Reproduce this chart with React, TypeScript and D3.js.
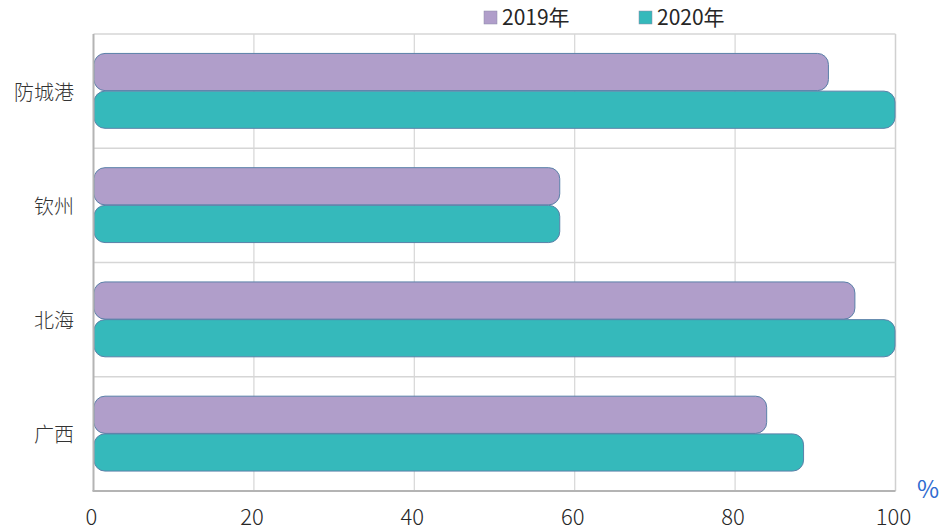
import React from "react";
import * as d3 from "d3";

const categories = ["防城港", "钦州", "北海", "广西"];
const series = ["2019年", "2020年"];
const values2019 = [91.7, 58.2, 95.0, 84.0];
const values2020 = [100, 58.2, 100, 88.6];
const xTicks = [0, 20, 40, 60, 80, 100];
const colors = ["#b09eca", "#35b9bb"];

const W = 941;
const H = 531;
const M = { left: 93.5, right: 895.5, top: 34, bottom: 491 };
const FONT = "'Noto Sans CJK SC', 'Noto Sans', sans-serif";

export default function App() {
  const x = d3.scaleLinear().domain([0, 100]).range([M.left, M.right]);
  const y = d3.scaleBand<string>().domain(categories).range([M.top, M.bottom]).paddingInner(0).paddingOuter(0);
  const barH = 37.7;
  const data = [values2019, values2020];

  return (
    <div style={{ position: "absolute", left: 0, top: 0 }}>
      <svg width={W} height={H} style={{ display: "block", background: "#fff" }}>
        {xTicks.slice(1, -1).map((t) => (
          <line key={t} x1={x(t)} x2={x(t)} y1={M.top} y2={M.bottom} stroke="#d6d6d6" strokeWidth={1.2} />
        ))}
        <line x1={x(100)} x2={x(100)} y1={M.top} y2={M.bottom} stroke="#d0d0d0" strokeWidth={1.5} />
        {categories.map((c) => (
          <line key={c} x1={M.left} x2={M.right} y1={y(c)!} y2={y(c)!} stroke="#d6d6d6" strokeWidth={1.5} />
        ))}
        {categories.map((c, i) => {
          const band = y.bandwidth();
          const top = y(c)! + (band - barH * 2) / 2;
          return data.map((vals, s) => (
            <rect
              key={c + s}
              x={x(0) + 0.5}
              y={top + s * barH}
              width={x(vals[i]) - x(0) - 1}
              height={barH - 0.5}
              rx={11}
              ry={11}
              fill={colors[s]}
              stroke="#5a80a8"
              strokeWidth={1}
            />
          ));
        })}
        <line x1={M.left} x2={M.left} y1={M.top} y2={M.bottom} stroke="#b4b4b4" strokeWidth={2} />
        <line x1={M.left - 1} x2={M.right} y1={M.bottom} y2={M.bottom} stroke="#b4b4b4" strokeWidth={2} />
        {xTicks.map((t) => (
          <text key={t} x={x(t) - 2} y={525} textAnchor="middle" fontFamily={FONT} fontWeight={300} fontSize={22} fill="#262626">
            {t}
          </text>
        ))}
        <text x={928} y={498} textAnchor="middle" fontFamily={FONT} fontWeight={400} fontSize={24} fill="#2f6bd0">
          %
        </text>
        {categories.map((c) => (
          <text
            key={c}
            x={74}
            y={y(c)! + y.bandwidth() / 2}
            textAnchor="end"
            dominantBaseline="central"
            fontFamily={FONT}
            fontWeight={300}
            fontSize={20}
            fill="#333"
          >
            {c}
          </text>
        ))}
        {series.map((s, i) => {
          const lx = [484, 639][i];
          return (
            <g key={s}>
              <rect x={lx} y={11} width={13} height={13} fill={colors[i]} stroke="#8a8aa8" strokeWidth={0.5} />
              <text x={lx + 18} y={25} fontFamily={FONT} fontWeight={400} fontSize={21} fill="#262626">
                {s}
              </text>
            </g>
          );
        })}
      </svg>
    </div>
  );
}
